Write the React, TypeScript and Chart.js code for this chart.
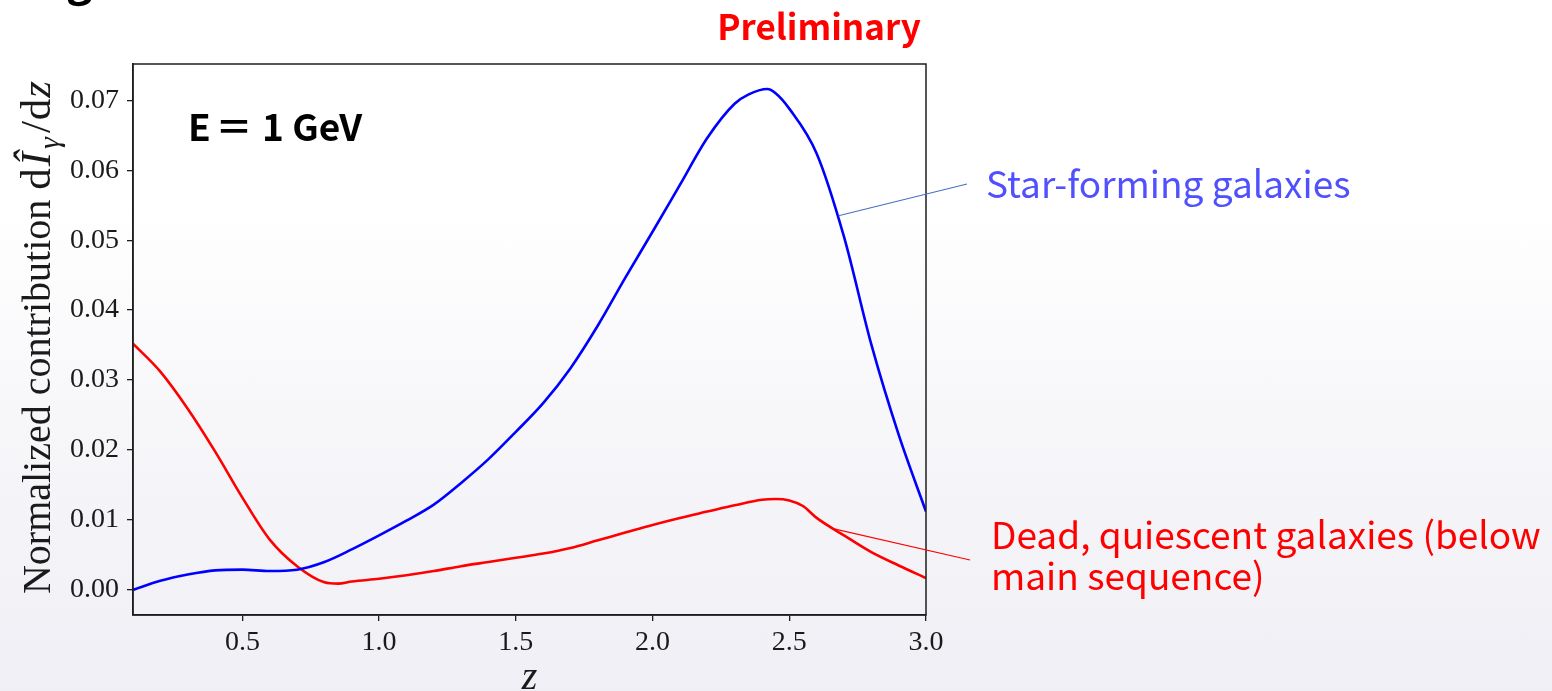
import { useEffect, useRef } from "react";
import { Chart, registerables } from "chart.js";

Chart.register(...registerables);

// Redshift grid and normalized contribution dÎγ/dz for star-forming galaxies
const zStarForming = [
  0.1, 0.2, 0.3, 0.4, 0.5, 0.6, 0.7, 0.8, 0.9, 1.0, 1.1, 1.2, 1.3, 1.4, 1.5,
  1.6, 1.7, 1.8, 1.9, 2.0, 2.1, 2.2, 2.3, 2.35, 2.42, 2.45, 2.5, 2.6, 2.7, 2.8,
  2.9, 3.0,
];
const starForming = [
  0.0, 0.0013, 0.0022, 0.0028, 0.0029, 0.0027, 0.0029, 0.004, 0.0058, 0.0078,
  0.0099, 0.0122, 0.0153, 0.0187, 0.0226, 0.0267, 0.0317, 0.0378, 0.0446,
  0.0512, 0.0579, 0.0646, 0.0695, 0.0708, 0.0716, 0.071, 0.0688, 0.0624,
  0.0505, 0.0351, 0.0222, 0.0112,
];

// Dead, quiescent galaxies (below main sequence)
const zQuiescent = [
  0.1, 0.2, 0.3, 0.4, 0.5, 0.6, 0.7, 0.8, 0.85, 0.9, 1.0, 1.1, 1.2, 1.3, 1.4,
  1.5, 1.6, 1.7, 1.8, 1.9, 2.0, 2.1, 2.2, 2.3, 2.4, 2.45, 2.5, 2.55, 2.6, 2.7,
  2.8, 2.9, 3.0,
];
const quiescent = [
  0.0352, 0.0312, 0.0259, 0.0198, 0.0132, 0.0072, 0.0034, 0.0011, 0.0009,
  0.0012, 0.0016, 0.0021, 0.0027, 0.0034, 0.004, 0.0046, 0.0052, 0.006,
  0.0071, 0.0082, 0.0093, 0.0103, 0.0112, 0.0121, 0.0129, 0.013, 0.0128,
  0.012, 0.0103, 0.0078, 0.0054, 0.0035, 0.0017,
];

const xTicks = [0.5, 1.0, 1.5, 2.0, 2.5, 3.0];
const yTicks = [0.0, 0.01, 0.02, 0.03, 0.04, 0.05, 0.06, 0.07];

const Z_MIN = 0.1;
const Z_MAX = 3.0;
const Y_MIN = -0.00358;
const Y_MAX = 0.07518;

const serif = "'Liberation Serif', 'DejaVu Serif', serif";
const sans = "'Noto Sans CJK JP', 'Noto Sans', sans-serif";
const axisColor = "#1e1e1e";

// Where the callout lines touch each curve (z, value)
const starFormingAnchor = [2.68, 0.0535];
const quiescentAnchor = [2.656, 0.0088];

const framePlugin = {
  id: "frame",
  afterDatasetsDraw(chart: any) {
    const { ctx, chartArea: a } = chart;
    ctx.save();
    ctx.strokeStyle = axisColor;
    ctx.lineWidth = 1.5;
    ctx.strokeRect(a.left, a.top, a.right - a.left, a.bottom - a.top);
    ctx.restore();
  },
};

const labelsPlugin = {
  id: "labels",
  afterDraw(chart: any) {
    const { ctx, chartArea: a, scales } = chart;
    const xs = scales.x;
    const ys = scales.y;
    ctx.save();

    // descender of the slide heading above the figure
    ctx.fillStyle = "#000";
    ctx.font = `bold 44px ${sans}`;
    ctx.textBaseline = "alphabetic";
    ctx.textAlign = "left";
    ctx.fillText("g", 66, -5);

    // y axis title with math parts
    const parts = [
      { t: "Normalized contribution ", f: `40px ${serif}`, dy: 0, gap: 0 },
      { t: "d", f: `43px ${serif}`, dy: 0, gap: 2 },
      { t: "\u00CE", f: `italic 43px ${serif}`, dy: 0, gap: 3 },
      { t: "\u03B3", f: `italic 30px ${serif}`, dy: 9, gap: 4 },
      { t: "/", f: `43px ${serif}`, dy: 0, gap: 1 },
      { t: "d", f: `43px ${serif}`, dy: 0, gap: 1 },
      { t: "z", f: `italic 43px ${serif}`, dy: 0, gap: 0 },
    ];
    let total = 0;
    for (const p of parts) {
      ctx.font = p.f;
      total += ctx.measureText(p.t).width + p.gap;
    }
    ctx.save();
    ctx.translate(50, (a.top + a.bottom) / 2 - 2);
    ctx.rotate(-Math.PI / 2);
    ctx.fillStyle = "#1a1a1a";
    let cx = -total / 2;
    for (const p of parts) {
      ctx.font = p.f;
      ctx.fillText(p.t, cx, p.dy);
      cx += ctx.measureText(p.t).width + p.gap;
    }
    ctx.restore();

    // x axis title
    ctx.font = `italic 40px ${serif}`;
    ctx.fillStyle = "#1a1a1a";
    ctx.textAlign = "center";
    ctx.fillText("z", (a.left + a.right) / 2, 689);

    // Preliminary
    ctx.font = `bold 35px ${sans}`;
    ctx.fillStyle = "#ff0000";
    ctx.textAlign = "center";
    ctx.fillText("Preliminary", 819, 40);

    // energy label
    ctx.font = `bold 37px ${sans}`;
    ctx.fillStyle = "#000";
    ctx.textAlign = "left";
    ctx.fillText("E", 188, 141);
    ctx.textAlign = "center";
    ctx.fillText("\uFF1D", 234, 141);
    ctx.textAlign = "left";
    ctx.fillText("1 GeV", 262, 141);

    // callout: star-forming
    const bx = xs.getPixelForValue(starFormingAnchor[0]);
    const by = ys.getPixelForValue(starFormingAnchor[1]);
    ctx.strokeStyle = "#4472c4";
    ctx.lineWidth = 1.1;
    ctx.beginPath();
    ctx.moveTo(bx, by);
    ctx.lineTo(967, 184);
    ctx.stroke();

    ctx.font = `37px ${sans}`;
    ctx.fillStyle = "#5050ff";
    ctx.fillText("Star-forming galaxies", 986, 198);

    // callout: quiescent
    const rx = xs.getPixelForValue(quiescentAnchor[0]);
    const ry = ys.getPixelForValue(quiescentAnchor[1]);
    ctx.strokeStyle = "#ff0000";
    ctx.lineWidth = 1.1;
    ctx.beginPath();
    ctx.moveTo(rx, ry);
    ctx.lineTo(970, 560);
    ctx.stroke();

    ctx.font = `37px ${sans}`;
    ctx.fillStyle = "#ff0000";
    ctx.fillText("Dead, quiescent galaxies (below", 991, 549);
    ctx.fillText("main sequence)", 991, 590);

    ctx.restore();
  },
};

export default function App() {
  const ref = useRef<HTMLCanvasElement | null>(null);

  useEffect(() => {
    const canvas = ref.current;
    if (!canvas) return;
    const chart = new Chart(canvas, {
      type: "line",
      data: {
        datasets: [
          {
            label: "Star-forming galaxies",
            data: zStarForming.map((x, i) => ({ x, y: starForming[i] })),
            borderColor: "#0000ff",
            borderWidth: 2.6,
            pointRadius: 0,
            fill: false,
            cubicInterpolationMode: "monotone",
          },
          {
            label: "Dead, quiescent galaxies",
            data: zQuiescent.map((x, i) => ({ x, y: quiescent[i] })),
            borderColor: "#ff0000",
            borderWidth: 2.6,
            pointRadius: 0,
            fill: false,
            cubicInterpolationMode: "monotone",
          },
        ],
      },
      options: {
        responsive: false,
        animation: false,
        devicePixelRatio: 1,
        layout: { padding: { left: 0, right: 626, top: 64, bottom: 0 } },
        plugins: {
          legend: { display: false },
          tooltip: { enabled: false },
        },
        scales: {
          x: {
            type: "linear",
            min: Z_MIN,
            max: Z_MAX,
            afterBuildTicks: (s: any) => {
              s.ticks = xTicks.map((v) => ({ value: v }));
            },
            afterFit: (s: any) => {
              s.height = 76;
            },
            ticks: {
              callback: (v: any) => Number(v).toFixed(1),
              font: { family: serif, size: 28 },
              color: "#1a1a1a",
              padding: 5,
              maxRotation: 0,
              autoSkip: false,
            },
            grid: {
              drawOnChartArea: false,
              drawTicks: true,
              tickLength: 6,
              color: axisColor,
              lineWidth: 1.3,
            },
            border: { display: true, color: axisColor, width: 1.5 },
          },
          y: {
            type: "linear",
            min: Y_MIN,
            max: Y_MAX,
            afterBuildTicks: (s: any) => {
              s.ticks = yTicks.map((v) => ({ value: v }));
            },
            afterFit: (s: any) => {
              s.width = 133;
            },
            ticks: {
              callback: (v: any) => Number(v).toFixed(2),
              font: { family: serif, size: 28 },
              color: "#1a1a1a",
              padding: 8,
              autoSkip: false,
            },
            grid: {
              drawOnChartArea: false,
              drawTicks: true,
              tickLength: 6,
              color: axisColor,
              lineWidth: 1.3,
            },
            border: { display: true, color: axisColor, width: 1.5 },
          },
        },
      },
      plugins: [framePlugin, labelsPlugin],
    } as any);
    return () => chart.destroy();
  }, []);

  return (
    <div
      style={{
        position: "absolute",
        left: 0,
        top: 0,
        width: 1552,
        height: 691,
        overflow: "hidden",
        background:
          "linear-gradient(to bottom, #ffffff 0%, #ffffff 30%, #f7f7fa 60%, #efeff5 100%)",
      }}
    >
      <canvas ref={ref} width={1552} height={691} style={{ display: "block" }} />
    </div>
  );
}
